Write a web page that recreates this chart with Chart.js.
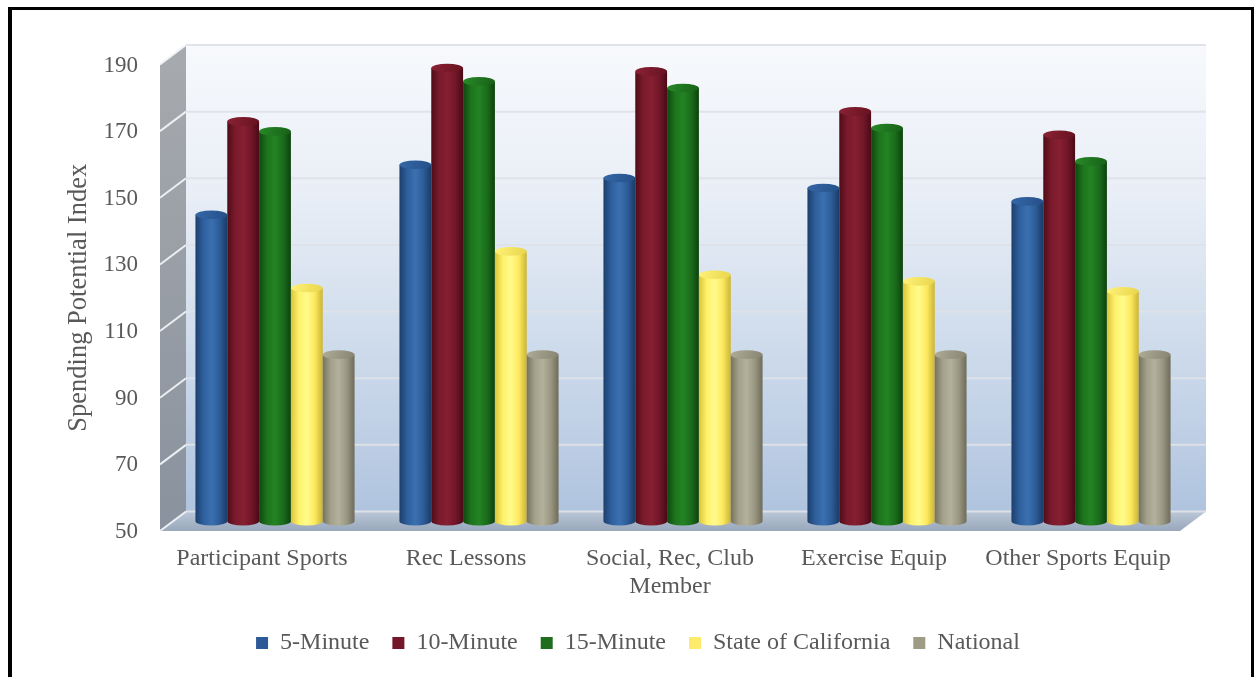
<!DOCTYPE html>
<html>
<head>
<meta charset="utf-8">
<title>Spending Potential Index</title>
<script src="https://cdn.jsdelivr.net/npm/chart.js@4.4.1/dist/chart.umd.min.js"></script>
<style>
  html, body { margin: 0; padding: 0; background: #ffffff; width: 1257px; height: 677px; overflow: hidden; }
  #wrap { position: relative; width: 1257px; height: 677px; }
  #wrap canvas { position: absolute; left: 0; top: 0; }
  #frame {
    position: absolute; left: 8px; top: 7px; width: 1239px; height: 700px;
    border-left: 4px solid #000; border-top: 3px solid #000; border-right: 3px solid #000;
    pointer-events: none;
  }
</style>
</head>
<body>
<div id="wrap">
  <canvas id="chart" width="1257" height="677"></canvas>
  <div id="frame"></div>
</div>
<script>
// ---- data ----
const categories = ['Participant Sports', 'Rec Lessons', ['Social, Rec, Club', 'Member'], 'Exercise Equip', 'Other Sports Equip'];
const seriesNames = ['5-Minute', '10-Minute', '15-Minute', 'State of California', 'National'];
const fiveMinute = [142, 157, 153, 150, 146];
const tenMinute = [170, 186, 185, 173, 166];
const fifteenMinute = [167, 182, 180, 168, 158];
const stateOfCalifornia = [120, 131, 124, 122, 119];
const national = [100, 100, 100, 100, 100];
const yTickValues = [50, 70, 90, 110, 130, 150, 170, 190];

// ---- styling ----
const FONT = '"Liberation Serif", "Times New Roman", serif';
const TEXT = '#595959';
const DEPTH_X = 26;      // back wall offset from the front plane
const DEPTH_Y = -19.5;
const palettes = [
  { legend: '#2C5A98', stops: ['#1c3f6c', '#2e5f9d', '#3b70b0', '#2d5d99', '#1a3b66'], cap: ['#3567a6', '#24508a'] },
  { legend: '#74172A', stops: ['#4f0c18', '#7a1a2c', '#861f32', '#731729', '#4a0a16'], cap: ['#8a2235', '#66121f'] },
  { legend: '#1E6E1E', stops: ['#0f470f', '#1d741d', '#238323', '#1b6d1b', '#0d420d'], cap: ['#288a28', '#176017'] },
  { legend: '#FFEB6B', stops: ['#d9c43a', '#fff16a', '#fffb8c', '#fde95f', '#cbb433'], cap: ['#fff27a', '#e9d54a'] },
  { legend: '#9E9C85', stops: ['#75735f', '#a3a18a', '#b3b19b', '#9a9882', '#6e6c5a'], cap: ['#aeac96', '#878571'] }
];
const seriesValues = [fiveMinute, tenMinute, fifteenMinute, stateOfCalifornia, national];

function drawCylinder(ctx, cx, top, bottom, rx, pal) {
  const ry = rx * 0.27;
  const body = ctx.createLinearGradient(cx - rx, 0, cx + rx, 0);
  pal.stops.forEach((c, i) => body.addColorStop(i / (pal.stops.length - 1), c));
  ctx.beginPath();
  ctx.moveTo(cx - rx, top);
  ctx.lineTo(cx - rx, bottom);
  ctx.ellipse(cx, bottom, rx, ry, 0, Math.PI, 0, true);
  ctx.lineTo(cx + rx, top);
  ctx.closePath();
  ctx.fillStyle = body;
  ctx.fill();

  const cap = ctx.createLinearGradient(cx - rx, top - ry, cx + rx, top + ry);
  cap.addColorStop(0, pal.cap[0]);
  cap.addColorStop(1, pal.cap[1]);
  ctx.beginPath();
  ctx.ellipse(cx, top, rx, ry, 0, 0, Math.PI * 2);
  ctx.fillStyle = cap;
  ctx.fill();
}

// Walls, floor and gridlines of the 3D box
const boxPlugin = {
  id: 'box3d',
  beforeDraw(chart) {
    const { ctx, chartArea: ca, scales } = chart;
    const y = scales.y;
    const bx0 = ca.left + DEPTH_X, bx1 = ca.right + DEPTH_X;
    const by0 = ca.top + DEPTH_Y, by1 = ca.bottom + DEPTH_Y;
    ctx.save();

    // back wall
    const back = ctx.createLinearGradient(0, by0, 0, by1);
    back.addColorStop(0, '#f7f9fc');
    back.addColorStop(0.3, '#eaeff7');
    back.addColorStop(0.6, '#d2deed');
    back.addColorStop(1, '#b0c4df');
    ctx.fillStyle = back;
    ctx.fillRect(bx0, by0, bx1 - bx0, by1 - by0);

    // side wall
    const side = ctx.createLinearGradient(0, ca.top, 0, ca.bottom);
    side.addColorStop(0, '#a6a9ad');
    side.addColorStop(1, '#89929e');
    ctx.beginPath();
    ctx.moveTo(ca.left, ca.top);
    ctx.lineTo(bx0, by0);
    ctx.lineTo(bx0, by1);
    ctx.lineTo(ca.left, ca.bottom);
    ctx.closePath();
    ctx.fillStyle = side;
    ctx.fill();

    // floor
    const floor = ctx.createLinearGradient(0, by1, 0, ca.bottom);
    floor.addColorStop(0, '#bac7d8');
    floor.addColorStop(1, '#99a7bb');
    ctx.beginPath();
    ctx.moveTo(ca.left, ca.bottom);
    ctx.lineTo(bx0, by1);
    ctx.lineTo(bx1, by1);
    ctx.lineTo(ca.right, ca.bottom);
    ctx.closePath();
    ctx.fillStyle = floor;
    ctx.fill();

    // gridlines
    y.ticks.forEach(t => {
      const py = y.getPixelForValue(t.value);
      ctx.lineWidth = 2;
      ctx.strokeStyle = 'rgba(222,226,232,0.95)';
      ctx.beginPath();
      ctx.moveTo(bx0, py + DEPTH_Y);
      ctx.lineTo(bx1, py + DEPTH_Y);
      ctx.stroke();
      ctx.strokeStyle = 'rgba(240,243,246,0.95)';
      ctx.beginPath();
      ctx.moveTo(ca.left, py);
      ctx.lineTo(bx0, py + DEPTH_Y);
      ctx.stroke();
    });
    ctx.restore();
  },
  // bars are rendered as cylinders half-way into the box, standing on the floor
  beforeDatasetsDraw(chart) {
    const { ctx } = chart;
    const floorPx = chart.scales.y.getBasePixel();
    ctx.save();
    const metas = chart.data.datasets.map((d, i) => chart.getDatasetMeta(i));
    for (let c = 0; c < categories.length; c++) {
      metas.forEach((meta, i) => {
        const el = meta.data[c];
        if (!el) return;
        const p = el.getProps(['x', 'y', 'width'], true);
        drawCylinder(ctx, p.x + DEPTH_X / 2, p.y + DEPTH_Y / 2, floorPx + DEPTH_Y / 2, p.width / 2, palettes[i]);
      });
    }
    ctx.restore();
    return false;
  }
};

Chart.defaults.font.family = FONT;
Chart.defaults.color = TEXT;

new Chart(document.getElementById('chart'), {
  type: 'bar',
  data: {
    labels: categories,
    datasets: seriesNames.map((name, i) => ({
      label: name,
      data: seriesValues[i],
      backgroundColor: palettes[i].legend,
      borderWidth: 0,
      categoryPercentage: 0.78,
      barPercentage: 1.0
    }))
  },
  options: {
    responsive: false,
    animation: false,
    devicePixelRatio: 1,
    events: [],
    layout: { padding: { left: 19, right: 0, top: 64.5, bottom: 12 } },
    scales: {
      x: {
        grid: { display: false, drawTicks: false },
        border: { display: false },
        ticks: {
          padding: 14, color: TEXT, autoSkip: false, maxRotation: 0,
          font: { family: FONT, size: 24, lineHeight: 1.17 }
        },
        afterFit: s => { s.height = 77; }
      },
      y: {
        min: 50, max: 190,
        afterBuildTicks: s => { s.ticks = yTickValues.map(v => ({ value: v })); },
        grid: { display: false, drawTicks: false },
        border: { display: false },
        ticks: { padding: 22, labelOffset: 1, color: TEXT, font: { family: FONT, size: 23 } },
        title: {
          display: true, text: 'Spending Potential Index', color: TEXT,
          font: { family: FONT, size: 26.5 }, padding: { top: 44, bottom: 0 }
        },
        afterFit: s => { s.width = 141; }
      },
      rightGap: {
        type: 'linear', position: 'right', display: true,
        grid: { display: false, drawTicks: false },
        border: { display: false },
        ticks: { display: false },
        afterFit: s => { s.width = 77; }
      }
    },
    plugins: {
      legend: {
        position: 'bottom',
        labels: {
          boxWidth: 12, boxHeight: 12, padding: 23, color: TEXT,
          font: { family: FONT, size: 24 }
        }
      },
      tooltip: { enabled: false }
    }
  },
  plugins: [boxPlugin]
});
</script>
</body>
</html>
